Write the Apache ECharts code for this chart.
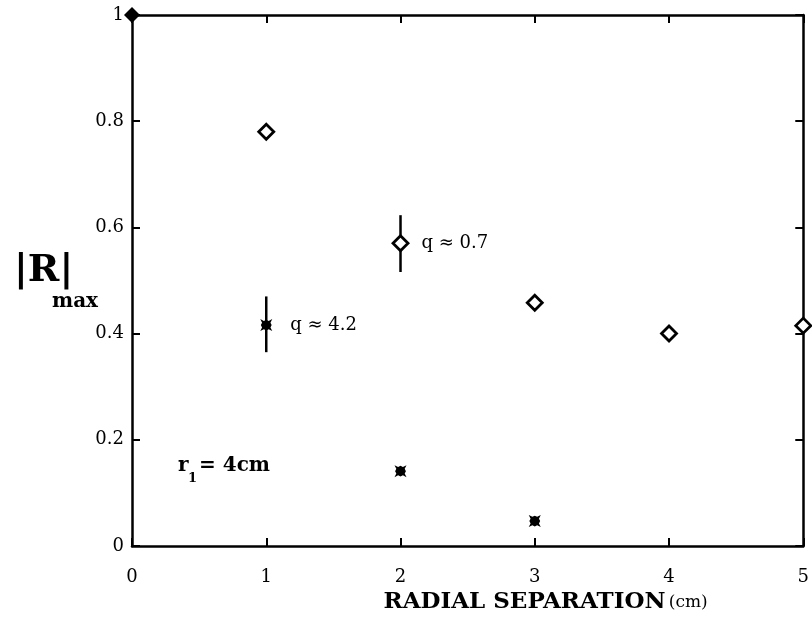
<!DOCTYPE html>
<html><head><meta charset="utf-8">
<script src="https://cdn.jsdelivr.net/npm/echarts@6/dist/echarts.min.js"></script>
<style>html,body{margin:0;padding:0;background:#fff}#c{width:812px;height:638px}</style>
</head><body><div id="c"></div>
<script>
// ---- data ----
const xTickLabels = ['0', '1', '2', '3', '4', '5'];
const yTickLabels = ['0', '0.2', '0.4', '0.6', '0.8', '1'];
const diamondX = [1, 2, 3, 4, 5];
const diamondY = [0.78, 0.57, 0.458, 0.40, 0.415];
const starX = [1, 2, 3];
const starY = [0.416, 0.141, 0.047];
const originX = [0];
const originY = [1];
const errX = [1, 2];
const errLo = [0.365, 0.516];
const errHi = [0.47, 0.623];
const diamondNotes = { 1: 'q ≈ 0.7' };   // index in diamond series
const starNotes = { 0: 'q ≈ 4.2' };      // index in star series

const FONT = 'DejaVu Serif';
const chart = echarts.init(document.getElementById('c'), null, { renderer: 'canvas' });

const starPath = 'path://M0,0 L3,1.5 L5,0.5 L7,1.5 L10,0 L8.5,3 L9.5,5 L8.5,7 L10,10 L7,8.5 L5,9.5 L3,8.5 L0,10 L1.5,7 L0.5,5 L1.5,3 Z';

function axisCommon(showLabel, fmtArr, scale) {
  return {
    axisLine: { show: true, onZero: false, lineStyle: { color: '#000', width: 2.5 } },
    axisTick: { show: true, inside: true, length: 8, lineStyle: { color: '#000', width: 2 } },
    splitLine: { show: false },
    axisLabel: {
      show: showLabel, color: '#000', fontFamily: FONT, fontSize: 18,
      formatter: v => fmtArr[Math.round(v / scale)]
    }
  };
}

const labelStyle = (txt, dist) => ({
  show: true, position: 'right', distance: dist, formatter: txt,
  color: '#000', fontFamily: FONT, fontSize: 18
});

const xMain = Object.assign({ type: 'value', min: 0, max: 5, interval: 1, position: 'bottom',
  name: '{a|RADIAL SEPARATION} {b|(cm)}', nameLocation: 'middle', nameGap: 44,
  nameTextStyle: { padding: [0, 0, 0, 156], rich: {
    a: { fontFamily: FONT, fontSize: 23, fontWeight: 'bold', color: '#000' },
    b: { fontFamily: FONT, fontSize: 17, color: '#000' } } } },
  axisCommon(true, xTickLabels, 1));
xMain.axisLabel.margin = 22;

const option = {
  animation: false,
  backgroundColor: '#fff',
  grid: { left: 132, right: 7, top: 15, bottom: 92, containLabel: false },
  xAxis: [
    xMain,
    Object.assign({ type: 'value', min: 0, max: 5, interval: 1, position: 'top' },
      axisCommon(false, xTickLabels, 1))
  ],
  yAxis: [
    Object.assign({ type: 'value', min: 0, max: 1, interval: 0.2, position: 'left' },
      axisCommon(true, yTickLabels, 0.2)),
    Object.assign({ type: 'value', min: 0, max: 1, interval: 0.2, position: 'right' },
      axisCommon(false, yTickLabels, 0.2))
  ],
  graphic: [
    { type: 'text', left: 14, top: 252, style: { text: '|R|', fontFamily: FONT, fontSize: 38, fontWeight: 'bold', fill: '#000' } },
    { type: 'text', left: 52, top: 292, style: { text: 'max', fontFamily: FONT, fontSize: 20, fontWeight: 'bold', fill: '#000' } },
    { type: 'text', left: 178, top: 456, style: { text: 'r', fontFamily: FONT, fontSize: 20, fontWeight: 'bold', fill: '#000' } },
    { type: 'text', left: 188, top: 472, style: { text: '1', fontFamily: FONT, fontSize: 13, fontWeight: 'bold', fill: '#000' } },
    { type: 'text', left: 199, top: 456, style: { text: '= 4cm', fontFamily: FONT, fontSize: 20, fontWeight: 'bold', fill: '#000' } }
  ],
  series: [
    {
      type: 'custom', xAxisIndex: 0, yAxisIndex: 0, z: 1,
      data: errX.map((x, i) => [x, errLo[i], errHi[i]]),
      encode: { x: 0, y: [1, 2] },
      renderItem: (p, api) => {
        const a = api.coord([api.value(0), api.value(1)]);
        const b = api.coord([api.value(0), api.value(2)]);
        return { type: 'line', shape: { x1: a[0], y1: a[1], x2: b[0], y2: b[1] },
          style: { stroke: '#000', lineWidth: 2.5 } };
      }
    },
    {
      type: 'scatter', z: 3, symbol: 'diamond', symbolSize: 15,
      itemStyle: { color: '#fff', borderColor: '#000', borderWidth: 2.8, opacity: 1 },
      data: diamondX.map((x, i) => diamondNotes[i]
        ? { value: [x, diamondY[i]], label: labelStyle(diamondNotes[i], 12) }
        : [x, diamondY[i]])
    },
    {
      type: 'scatter', z: 3, symbol: starPath, symbolSize: 12,
      itemStyle: { color: '#000', opacity: 1 },
      data: starX.map((x, i) => starNotes[i]
        ? { value: [x, starY[i]], label: labelStyle(starNotes[i], 18) }
        : [x, starY[i]])
    },
    {
      type: 'scatter', z: 4, symbol: 'diamond', symbolSize: 16,
      itemStyle: { color: '#000', opacity: 1 },
      data: originX.map((x, i) => [x, originY[i]])
    }
  ]
};
chart.setOption(option);
</script></body></html>
